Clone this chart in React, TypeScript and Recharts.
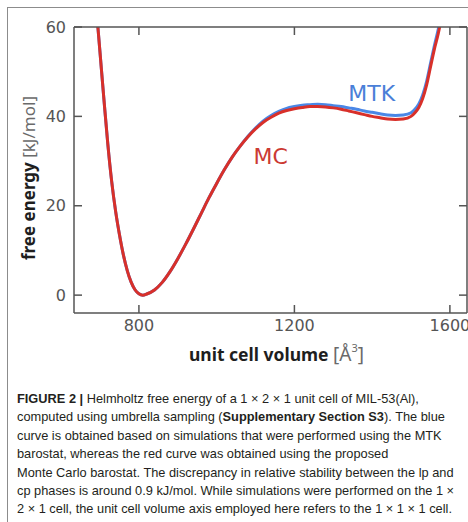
import { LineChart, Line, XAxis, YAxis, ReferenceDot } from 'recharts';

// Helmholtz free energy profiles (kJ/mol) against unit cell volume (Å^3)
const volumes = [
  680, 690, 700, 710, 720, 730, 740, 750, 760, 770, 780, 790, 800, 810, 820, 840, 860, 880, 900, 920,
  940, 960, 980, 1000, 1020, 1040, 1060, 1080, 1100, 1120, 1140, 1160, 1180, 1200, 1220, 1240, 1260,
  1280, 1300, 1320, 1340, 1360, 1380, 1400, 1420, 1440, 1460, 1480, 1500, 1510, 1520, 1530, 1540,
  1550, 1560, 1570, 1580, 1590,
];

// Monte Carlo barostat
const mcEnergy = [
  75, 64.6, 54.2, 43.8, 33.8, 25.4, 18.8, 13.5, 9.0, 5.5, 2.9, 1.2, 0.3, 0.0, 0.25, 1.15, 2.85, 5.25, 8.15, 11.35,
  14.75, 18.25, 21.75, 25.0, 28.1, 30.9, 33.3, 35.4, 37.2, 38.7, 39.8, 40.7, 41.3, 41.7, 42.0, 42.2, 42.2,
  42.1, 41.9, 41.6, 41.2, 40.8, 40.4, 40.0, 39.7, 39.4, 39.3, 39.4, 40.0, 40.8, 42.0, 44.0, 47.0,
  51.0, 55.0, 58.5, 63.0, 69,
];

// MTK barostat
const mtkEnergy = [
  75, 64.6, 54.2, 43.8, 33.8, 25.4, 18.8, 13.5, 9.0, 5.5, 2.9, 1.2, 0.3, 0.0, 0.25, 1.15, 2.85, 5.25, 8.15, 11.35,
  14.75, 18.25, 21.75, 25.0, 28.1, 30.9, 33.3, 35.5, 37.4, 39.0, 40.2, 41.1, 41.8, 42.2, 42.5, 42.6, 42.7,
  42.6, 42.4, 42.2, 41.9, 41.6, 41.2, 40.9, 40.6, 40.3, 40.2, 40.3, 40.8, 41.6, 42.8, 44.8, 47.8,
  51.8, 55.8, 59.5, 64.0, 70,
];

const volumeTicks = [800, 1200, 1600];
const energyTicks = [0, 20, 40, 60];

const rows = volumes.map((v, i) => ({ v, mc: mcEnergy[i], mtk: mtkEnergy[i] }));

const X_DOMAIN: [number, number] = [633, 1644];
const Y_DOMAIN: [number, number] = [-4, 60];

const SPINE = '#555';
const TICK_LEN = 8;
const TICK_FONT = 'DejaVu Sans, sans-serif';
const RED = '#d8302a';
const BLUE = '#4a87e6';

const LeftTick = ({ x, y, payload }: any) => (
  <g>
    <line x1={x + 8} x2={x + 8 + TICK_LEN} y1={y} y2={y} stroke={SPINE} strokeWidth={1.5} />
    <text x={x} y={y} textAnchor="end" dominantBaseline="central" fill={SPINE} fontSize={16} fontFamily={TICK_FONT}>
      {payload.value}
    </text>
  </g>
);

const BottomTick = ({ x, y, payload }: any) => (
  <g>
    <line x1={x} x2={x} y1={y - 6} y2={y - 6 - TICK_LEN} stroke={SPINE} strokeWidth={1.5} />
    <text x={x} y={y} dy="0.74em" textAnchor="middle" fill={SPINE} fontSize={16} fontFamily={TICK_FONT}>
      {payload.value}
    </text>
  </g>
);

const RightTick = ({ x, y }: any) => (
  <line x1={x} x2={x - TICK_LEN} y1={y} y2={y} stroke={SPINE} strokeWidth={1.5} />
);

const TopTick = ({ x, y }: any) => (
  <line x1={x} x2={x} y1={y} y2={y + TICK_LEN} stroke={SPINE} strokeWidth={1.5} />
);

const XTitle = ({ viewBox }: any) => (
  <text
    x={viewBox.x + viewBox.width / 2 + 6}
    y={viewBox.y + 48}
    textAnchor="middle"
    fontSize={17.5}
    fontFamily="Noto Sans, sans-serif"
  >
    <tspan fontWeight={700} fill="#1e1e1e">unit cell volume </tspan>
    <tspan fill="#6a6a6a" fontSize={19}>[Å</tspan>
    <tspan fill="#6a6a6a" fontSize={11} dy={-9}>3</tspan>
    <tspan fill="#6a6a6a" fontSize={19} dy={9}>]</tspan>
  </text>
);

const YTitle = ({ viewBox }: any) => {
  const cx = viewBox.x + 28;
  const cy = viewBox.y + viewBox.height / 2 + 8;
  return (
    <text
      x={cx}
      y={cy}
      transform={`rotate(-90 ${cx} ${cy})`}
      textAnchor="middle"
      dominantBaseline="central"
      fontSize={17}
      fontFamily="Noto Sans, sans-serif"
    >
      <tspan fontWeight={700} fill="#1e1e1e">free energy </tspan>
      <tspan fill="#6a6a6a">[kJ/mol]</tspan>
    </text>
  );
};

const captionLines = [
  [<b key="b">FIGURE 2 |</b>, ' Helmholtz free energy of a 1 × 2 × 1 unit cell of MIL-53(Al),'],
  ['computed using umbrella sampling (', <b key="b">Supplementary Section S3</b>, '). The blue'],
  ['curve is obtained based on simulations that were performed using the MTK'],
  ['barostat, whereas the red curve was obtained using the proposed'],
  ['Monte Carlo barostat. The discrepancy in relative stability between the lp and'],
  ['cp phases is around 0.9 kJ/mol. While simulations were performed on the 1 ×'],
  ['2 × 1 cell, the unit cell volume axis employed here refers to the 1 × 1 × 1 cell.'],
];

export default function App() {
  return (
    <div style={{ position: 'absolute', left: 0, top: 0, width: 468, height: 522, background: '#fff', overflow: 'hidden' }}>
      <div
        style={{
          position: 'absolute',
          left: 7,
          top: 7,
          width: 470,
          height: 530,
          borderTop: '1px solid #8c8c8c',
          borderLeft: '1px solid #8c8c8c',
        }}
      />
      <div style={{ position: 'absolute', left: 0, top: 0 }}>
        <LineChart width={468} height={380} data={rows} margin={{ top: 26, right: 0, bottom: 0, left: 0 }}>
          <XAxis
            type="number"
            dataKey="v"
            domain={X_DOMAIN}
            allowDataOverflow
            ticks={volumeTicks}
            height={67}
            tickSize={0}
            tickMargin={6}
            tickLine={false}
            axisLine={{ stroke: SPINE, strokeWidth: 1.5 }}
            tick={<BottomTick />}
            label={XTitle}
          />
          <XAxis
            xAxisId="top"
            orientation="top"
            type="number"
            dataKey="v"
            domain={X_DOMAIN}
            allowDataOverflow
            ticks={volumeTicks}
            height={1}
            tickSize={0}
            tickMargin={0}
            tickLine={false}
            axisLine={{ stroke: SPINE, strokeWidth: 1.5 }}
            tick={<TopTick />}
          />
          <YAxis
            type="number"
            domain={Y_DOMAIN}
            allowDataOverflow
            ticks={energyTicks}
            width={74}
            tickSize={0}
            tickMargin={8}
            tickLine={false}
            axisLine={{ stroke: SPINE, strokeWidth: 1.5 }}
            tick={<LeftTick />}
            label={YTitle}
          />
          <YAxis
            yAxisId="right"
            orientation="right"
            type="number"
            domain={Y_DOMAIN}
            allowDataOverflow
            ticks={energyTicks}
            width={1}
            tickSize={0}
            tickMargin={0}
            tickLine={false}
            axisLine={{ stroke: SPINE, strokeWidth: 1.5 }}
            tick={<RightTick />}
          />
          <Line
            type="monotone"
            dataKey="mtk"
            stroke={BLUE}
            strokeWidth={3}
            dot={false}
            isAnimationActive={false}
          />
          <Line
            type="monotone"
            dataKey="mc"
            stroke={RED}
            strokeWidth={3}
            dot={false}
            isAnimationActive={false}
          />
          <ReferenceDot
            x={1399}
            y={45.2}
            r={0}
            fill="none"
            stroke="none"
            label={{ value: 'MTK', position: 'center', fill: '#4a7fd8', fontSize: 22, fontFamily: TICK_FONT }}
          />
          <ReferenceDot
            x={1139}
            y={31}
            r={0}
            fill="none"
            stroke="none"
            label={{ value: 'MC', position: 'center', fill: '#cc3a33', fontSize: 22, fontFamily: TICK_FONT }}
          />
        </LineChart>
      </div>
      <div
        style={{
          position: 'absolute',
          left: 17,
          top: 390,
          fontFamily: 'Liberation Sans, Arial, sans-serif',
          fontSize: 12.8,
          lineHeight: '18.4px',
          color: '#231f20',
          whiteSpace: 'nowrap',
        }}
      >
        {captionLines.map((parts, i) => (
          <div key={i}>{parts}</div>
        ))}
      </div>
    </div>
  );
}
